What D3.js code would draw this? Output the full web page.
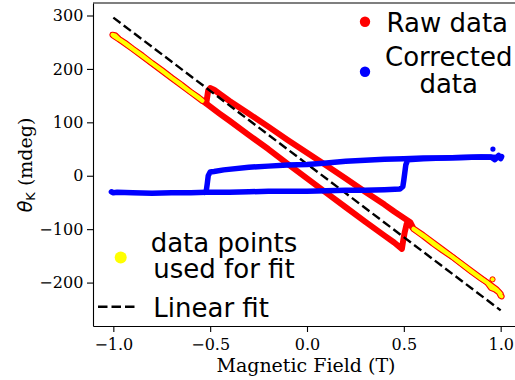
<!DOCTYPE html>
<html>
<head>
<meta charset="utf-8">
<script src="https://cdn.jsdelivr.net/npm/d3@7"></script>
<style>
  body { margin: 0; background: #fff; }
  svg { display: block; overflow: hidden; }
</style>
</head>
<body>
<svg id="chart" width="515" height="380"></svg>
<script>
// raw Kerr signal, field swept up (-1 -> 1)
var rawUpField = [-1.005, -0.99, -0.97, -0.94, -0.9, -0.85, -0.8, -0.75, -0.7, -0.65, -0.6, -0.56, -0.54, -0.52,
  -0.45, -0.4, -0.3, -0.2, -0.1, 0, 0.1, 0.2, 0.3, 0.4, 0.45, 0.49, 0.495, 0.505, 0.515, 0.53, 0.55,
  0.6, 0.65, 0.7, 0.75, 0.8, 0.85, 0.9, 0.93, 0.95, 0.97, 0.99, 1.0, 1.005];
var rawUpTheta = [264, 263, 256, 249, 238, 225, 211, 198, 184, 171, 157, 147, 141, 135,
  116, 103, 76, 50, 22, -5, -32, -59, -86, -112, -125, -137, -125, -105, -90, -90, -100,
  -113, -127, -140, -152, -166, -180, -193, -200, -210, -213, -218, -225, -226];

// raw Kerr signal, field swept down (1 -> -1)
var rawDownField = [1.0, 0.98, 0.95, 0.9, 0.8, 0.7, 0.6, 0.55, 0.533, 0.5, 0.45, 0.4, 0.3, 0.2, 0.1, 0,
  -0.1, -0.2, -0.3, -0.4, -0.45, -0.48, -0.5, -0.51, -0.515, -0.52, -0.54, -0.6, -0.7, -0.8, -0.9, -0.97, -1.0];
var rawDownTheta = [-221, -213, -205, -192, -165, -138, -111, -99, -87, -79, -67, -54, -30, -5, 19, 43,
  67, 92, 116, 140, 153, 161, 164, 160, 148, 137, 140, 156, 183, 210, 237, 255, 262];

// background-corrected signal
var corrUpField = [-1.01, -1.0, -0.98, -0.9, -0.8, -0.7, -0.6, -0.52, -0.4, -0.3, -0.2, -0.1, 0, 0.1, 0.2, 0.3,
  0.4, 0.48, 0.495, 0.5, 0.505, 0.51, 0.52, 0.6, 0.7, 0.8, 0.9, 0.95, 0.97, 0.99, 1.0, 1.005];
var corrUpTheta = [-30, -32, -31, -32, -33, -32, -32, -31, -31, -30, -29, -29, -29, -28, -27, -27,
  -26, -25, -20, -8, 6, 20, 30, 32, 33, 34, 35, 35, 30, 38, 32, 36];

var corrDownField = [1.0, 0.9, 0.8, 0.7, 0.6, 0.5, 0.4, 0.3, 0.2, 0.1, 0, -0.1, -0.2, -0.3, -0.43,
  -0.48, -0.5, -0.51, -0.515, -0.52, -0.53];
var corrDownTheta = [34, 35, 34, 33, 33, 32, 31, 29, 27, 24, 21, 20, 18, 16, 11,
  8, 7, 0, -15, -28, -31];

// stray points
var corrOutlierField = [0.96];
var corrOutlierTheta = [50];
var rawOutlierField = [0.958];
var rawOutlierTheta = [-194];

// linear fit of |H| > 0.53 points
var fitField = [-1.0, 1.0];
var fitTheta = [296, -252];

var xTicks = [-1.0, -0.5, 0.0, 0.5, 1.0];
var yTicks = [-200, -100, 0, 100, 200, 300];

var svg = d3.select("#chart");
var plotLeft = 93, plotTop = 3, plotBottom = 326, plotRight = 521;

var x = d3.scaleLinear().domain([-1.105, 1.105]).range([plotLeft, plotRight]);
var y = d3.scaleLinear().domain([-281.3, 323.4]).range([plotBottom, plotTop]);

function pts(fs, ts) {
  return fs.map(function(f, i) { return {h: f, v: ts[i]}; });
}

var line = d3.line().x(function(d) { return x(d.h); }).y(function(d) { return y(d.v); });
var fitLine = d3.line()
  .defined(function(d) { return Math.abs(d.h) >= 0.535; })
  .x(function(d) { return x(d.h); }).y(function(d) { return y(d.v); });

var rawUp = pts(rawUpField, rawUpTheta);
var rawDown = pts(rawDownField, rawDownTheta);

// raw data in red
[rawUp, rawDown].forEach(function(d) {
  svg.append("path").attr("d", line(d))
    .attr("fill", "none").attr("stroke", "red").attr("stroke-width", 6)
    .attr("stroke-linejoin", "round").attr("stroke-linecap", "round");
});
svg.selectAll("circle.rawout").data(pts(rawOutlierField, rawOutlierTheta)).enter()
  .append("circle").attr("class", "rawout")
  .attr("cx", function(d) { return x(d.h); }).attr("cy", function(d) { return y(d.v); })
  .attr("r", 2.6).attr("fill", "yellow").attr("stroke", "red").attr("stroke-width", 1);

// points used for fit in yellow
[rawUp, rawDown].forEach(function(d) {
  svg.append("path").attr("d", fitLine(d))
    .attr("fill", "none").attr("stroke", "yellow").attr("stroke-width", 3.8)
    .attr("stroke-linejoin", "round").attr("stroke-linecap", "round");
});

// linear fit
svg.append("path").attr("d", line(pts(fitField, fitTheta)))
  .attr("fill", "none").attr("stroke", "black").attr("stroke-width", 2.4)
  .attr("stroke-dasharray", "9,4");

// corrected data in blue
[pts(corrUpField, corrUpTheta), pts(corrDownField, corrDownTheta)].forEach(function(d) {
  svg.append("path").attr("d", line(d))
    .attr("fill", "none").attr("stroke", "blue").attr("stroke-width", 5.5)
    .attr("stroke-linejoin", "round").attr("stroke-linecap", "round");
});
svg.selectAll("circle.corrout").data(pts(corrOutlierField, corrOutlierTheta)).enter()
  .append("circle").attr("class", "corrout")
  .attr("cx", function(d) { return x(d.h); }).attr("cy", function(d) { return y(d.v); })
  .attr("r", 2.6).attr("fill", "blue");

// axes
var serif = "'DejaVu Serif', serif";
var sans = "'DejaVu Sans', sans-serif";
var fmtX = function(d) { return d3.format(".1f")(d).replace("-", "\u2212"); };
var fmtY = function(d) { return String(d).replace("-", "\u2212"); };

var xAxis = svg.append("g").attr("transform", "translate(0," + plotBottom + ")")
  .call(d3.axisBottom(x).tickValues(xTicks).tickFormat(fmtX).tickSize(6).tickPadding(6.5).tickSizeOuter(0));
var yAxis = svg.append("g").attr("transform", "translate(" + plotLeft + ",0)")
  .call(d3.axisLeft(y).tickValues(yTicks).tickFormat(fmtY).tickSize(6).tickPadding(3.7).tickSizeOuter(0));

[xAxis, yAxis].forEach(function(a) {
  a.selectAll("text").attr("font-family", serif).attr("font-size", 16).attr("fill", "black");
  a.selectAll("line").attr("stroke", "black").attr("stroke-width", 1.1);
  a.select(".domain").attr("stroke", "black").attr("stroke-width", 1.1);
});
svg.append("line").attr("x1", plotLeft).attr("x2", plotRight).attr("y1", plotTop).attr("y2", plotTop)
  .attr("stroke", "black").attr("stroke-width", 1.1);

// axis labels
svg.append("text").attr("x", 306).attr("y", 372).attr("text-anchor", "middle")
  .attr("font-family", serif).attr("font-size", 19).text("Magnetic Field (T)");

var yl = svg.append("text").attr("transform", "translate(32,165) rotate(-90)")
  .attr("text-anchor", "middle").attr("font-family", serif).attr("font-size", 19);
yl.append("tspan").attr("font-family", sans).attr("font-style", "italic").text("\u03b8");
yl.append("tspan").attr("font-family", sans).attr("font-size", 13).attr("dy", 2.5).text("K");
yl.append("tspan").attr("dy", -2.5).text(" (mdeg)");

// legend
var leg = svg.append("g").attr("font-family", sans).attr("font-size", 26).attr("fill", "black");
leg.append("circle").attr("cx", 365).attr("cy", 21.7).attr("r", 5.2).attr("fill", "red");
leg.append("text").attr("x", 386.5).attr("y", 31.5).text("Raw data");
leg.append("circle").attr("cx", 365).attr("cy", 71.7).attr("r", 5.2).attr("fill", "blue");
leg.append("text").attr("x", 448.7).attr("y", 66).attr("text-anchor", "middle").text("Corrected");
leg.append("text").attr("x", 448.7).attr("y", 92.6).attr("text-anchor", "middle").text("data");

leg.append("circle").attr("cx", 120.7).attr("cy", 257.5).attr("r", 6).attr("fill", "yellow");
leg.append("text").attr("x", 224).attr("y", 251.7).attr("text-anchor", "middle").text("data points");
leg.append("text").attr("x", 224).attr("y", 278.3).attr("text-anchor", "middle").text("used for fit");
leg.append("line").attr("x1", 98).attr("x2", 138).attr("y1", 306.7).attr("y2", 306.7)
  .attr("stroke", "black").attr("stroke-width", 2.6).attr("stroke-dasharray", "9.5,4");
leg.append("text").attr("x", 153.3).attr("y", 316.7).text("Linear fit");
</script>
</body>
</html>
